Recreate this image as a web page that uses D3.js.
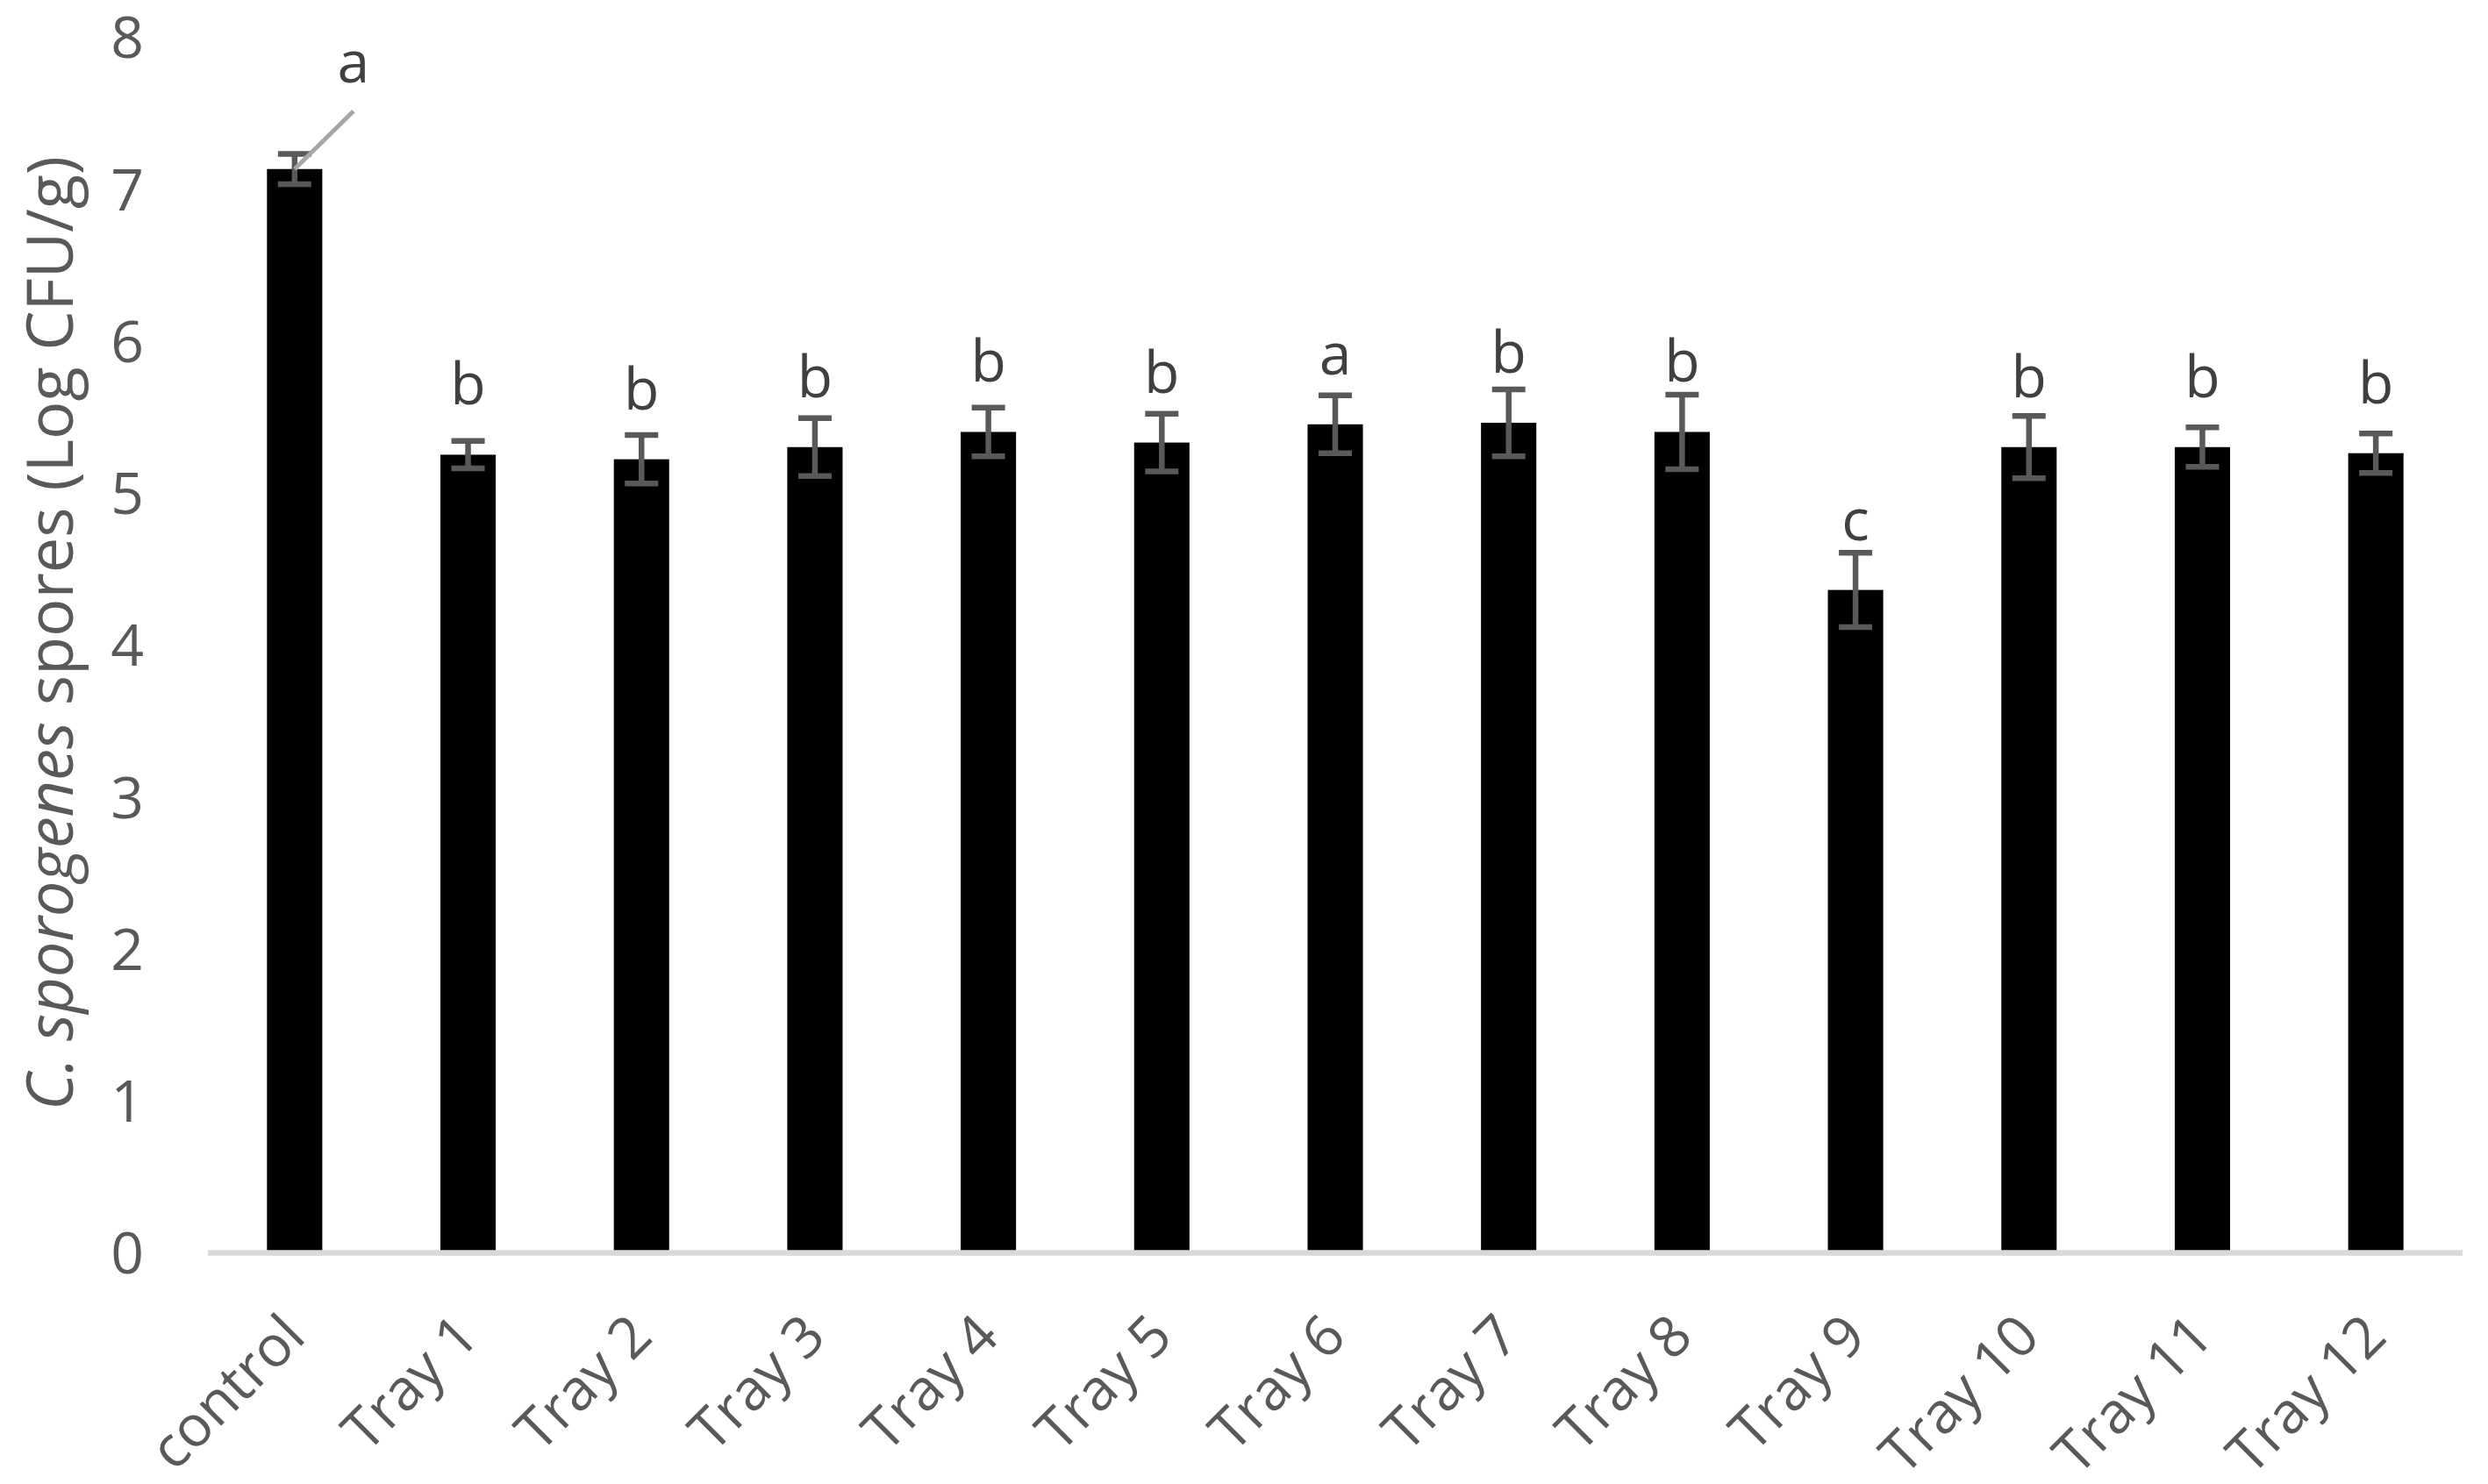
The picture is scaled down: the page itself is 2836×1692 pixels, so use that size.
<!DOCTYPE html>
<html>
<head>
<meta charset="utf-8">
<script src="https://cdn.jsdelivr.net/npm/d3@7"></script>
<style>
  html, body { margin: 0; padding: 0; background: #fff; }
  svg { display: block; font-family: "Open Sans", "Noto Sans", sans-serif; }
</style>
</head>
<body>
<svg id="chart" width="2836" height="1692"></svg>
<script>
// ---- data ----
const categories = ["control", "Tray 1", "Tray 2", "Tray 3", "Tray 4", "Tray 5", "Tray 6",
                    "Tray 7", "Tray 8", "Tray 9", "Tray 10", "Tray 11", "Tray 12"];
const means  = [7.13, 5.25, 5.22, 5.30, 5.40, 5.33, 5.45, 5.46, 5.40, 4.36, 5.30, 5.30, 5.26];
const errors = [0.10, 0.09, 0.16, 0.19, 0.16, 0.19, 0.19, 0.22, 0.245, 0.245, 0.205, 0.13, 0.13];
const letters = ["a", "b", "b", "b", "b", "b", "a", "b", "b", "c", "b", "b", "b"];
const yTicks = [0, 1, 2, 3, 4, 5, 6, 7, 8];
const yTitleItalic = "C. sporogenes";
const yTitleRest = " spores (Log CFU/g)";

// ---- layout ----
const svg = d3.select("#chart");
const plotLeft = 237, plotRight = 2807, plotTop = 42, plotBottom = 1428;

const x = d3.scaleBand().domain(categories).range([plotLeft, plotRight])
  .paddingInner(0.681).paddingOuter(0.3405);
const y = d3.scaleLinear().domain([0, 8]).range([plotBottom, plotTop]);

const rows = categories.map((c, i) => ({ c, v: means[i], e: errors[i], l: letters[i], i }));

// bars
svg.append("g").selectAll("rect").data(rows).join("rect")
  .attr("x", d => x(d.c))
  .attr("y", d => y(d.v))
  .attr("width", x.bandwidth())
  .attr("height", d => y(0) - y(d.v))
  .attr("fill", "#000");

// axis line (x)
svg.append("line")
  .attr("x1", plotLeft).attr("x2", plotRight)
  .attr("y1", y(0) + 0.5).attr("y2", y(0) + 0.5)
  .attr("stroke", "#d9d9d9").attr("stroke-width", 6.5);

// error bars
const eg = svg.append("g").attr("stroke", "#595959").attr("stroke-width", 6.5);
const capW = 38;
rows.forEach(d => {
  const cx = x(d.c) + x.bandwidth() / 2;
  eg.append("line").attr("x1", cx).attr("x2", cx).attr("y1", y(d.v + d.e)).attr("y2", y(d.v - d.e));
  eg.append("line").attr("x1", cx - capW / 2).attr("x2", cx + capW / 2).attr("y1", y(d.v + d.e)).attr("y2", y(d.v + d.e));
  eg.append("line").attr("x1", cx - capW / 2).attr("x2", cx + capW / 2).attr("y1", y(d.v - d.e)).attr("y2", y(d.v - d.e));
});

// y tick labels
const yAxis = d3.axisLeft(y).tickValues(yTicks).tickSize(0).tickPadding(0).tickFormat(d3.format("d"));
const yg = svg.append("g").attr("transform", `translate(${plotLeft - 73},0)`).call(yAxis);
yg.select(".domain").remove();
yg.selectAll("text").attr("font-size", 66).attr("fill", "#595959")
  .attr("font-family", "'Open Sans', sans-serif").attr("dy", "0.36em");

// x labels (rotated)
const xAxis = d3.axisBottom(x).tickSize(0).tickPadding(0);
const xg = svg.append("g").attr("transform", `translate(0,${plotBottom})`).call(xAxis);
xg.select(".domain").remove();
xg.selectAll(".tick text")
  .attr("font-size", 65).attr("fill", "#595959").attr("font-family", "'Open Sans', sans-serif")
  .attr("text-anchor", "end").attr("dy", null).attr("y", null)
  .attr("transform", "translate(15,99) rotate(-45)");

// significance letters
const lg = svg.append("g").attr("font-size", 66).attr("fill", "#404040").attr("text-anchor", "middle");
rows.forEach(d => {
  const cx = x(d.c) + x.bandwidth() / 2;
  if (d.i === 0) {
    // control letter is moved with a leader line
    const tx = cx + 67, ty = y(d.v) - 99;
    svg.append("line").attr("x1", cx).attr("y1", y(d.v))
      .attr("x2", cx + 67).attr("y2", y(d.v) - 66)
      .attr("stroke", "#a6a6a6").attr("stroke-width", 5);
    lg.append("text").attr("x", tx).attr("y", ty).text(d.l);
  } else {
    lg.append("text").attr("x", cx).attr("y", y(d.v) - 57).text(d.l);
  }
});

// y title
const title = svg.append("text")
  .attr("transform", "translate(83,722) rotate(-90)")
  .attr("text-anchor", "middle").attr("fill", "#595959").attr("font-size", 74)
  .attr("textLength", 1088).attr("lengthAdjust", "spacingAndGlyphs");
title.append("tspan").attr("font-style", "italic").text(yTitleItalic);
title.append("tspan").text(yTitleRest);
</script>
</body>
</html>
